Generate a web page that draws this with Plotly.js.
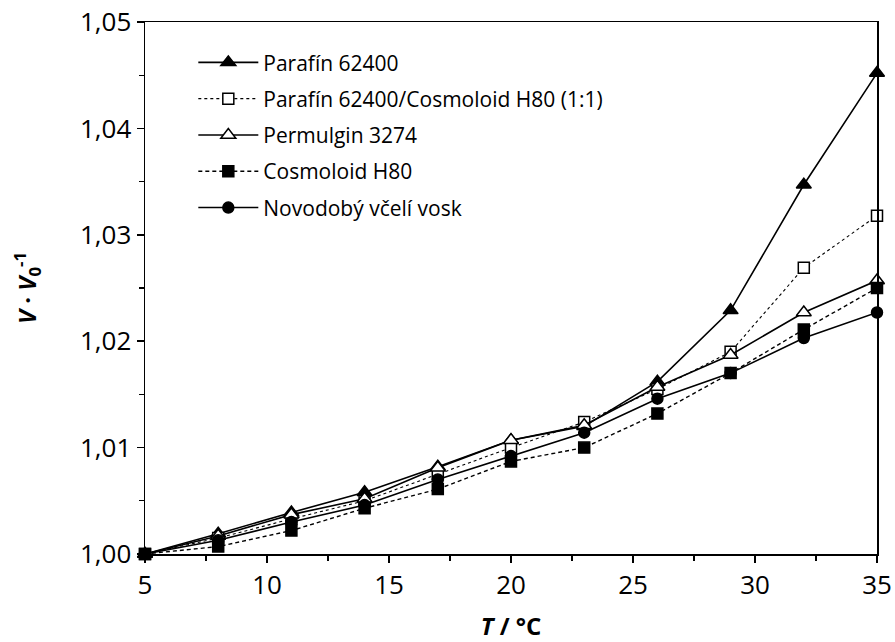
<!DOCTYPE html>
<html>
<head>
<meta charset="utf-8">
<script src="https://cdn.plot.ly/plotly-3.0.1.min.js"></script>
<style>
  html, body { margin: 0; padding: 0; background: #fff; }
  #chart { width: 895px; height: 642px; }
</style>
</head>
<body>
<div id="chart"></div>
<script>
// Temperature steps (°C)
const temperature = [5, 8, 11, 14, 17, 20, 23, 26, 29, 32, 35];

// Relative volume V/V0 for each wax
const parafin = [1.0000, 1.0019, 1.0039, 1.0058, 1.0082, 1.0107, 1.0120, 1.0162, 1.0229, 1.0347, 1.0452];
const parafinCosmoloid = [1.0000, 1.0015, 1.0033, 1.0050, 1.0075, 1.0100, 1.0124, 1.0155, 1.0190, 1.0269, 1.0318];
const permulgin = [1.0000, 1.0017, 1.0037, 1.0052, 1.0081, 1.0107, 1.0121, 1.0157, 1.0187, 1.0227, 1.0257];
const cosmoloid = [1.0000, 1.0007, 1.0022, 1.0043, 1.0061, 1.0087, 1.0100, 1.0132, 1.0170, 1.0211, 1.0250];
const vcelivosk = [1.0000, 1.0013, 1.0030, 1.0046, 1.0070, 1.0092, 1.0114, 1.0146, 1.0170, 1.0203, 1.0227];

const seriesNames = [
  'Parafín 62400',
  'Parafín 62400/Cosmoloid H80 (1:1)',
  'Permulgin 3274',
  'Cosmoloid H80',
  'Novodobý včelí vosk'
];

const xTicks = [5, 10, 15, 20, 25, 30, 35];
const yTicks = [1.00, 1.01, 1.02, 1.03, 1.04, 1.05];

const BLACK = '#000';

function trace(y, name, dash, width, symbol, fill, size) {
  return {
    x: temperature, y: y, name: name, type: 'scatter', mode: 'lines+markers',
    legendgroup: name,
    line: { color: BLACK, width: width, dash: dash },
    marker: { symbol: symbol, size: size, color: fill, line: { color: BLACK, width: 1.5 } },
    cliponaxis: false
  };
}

const data = [
  trace(parafin, seriesNames[0], 'solid', 1.6, 'triangle-up', BLACK, 13),
  trace(parafinCosmoloid, seriesNames[1], 'dot', 1.1, 'square', '#fff', 11),
  trace(permulgin, seriesNames[2], 'solid', 1.6, 'triangle-up', '#fff', 13),
  trace(cosmoloid, seriesNames[3], '4px,3px', 1.4, 'square', BLACK, 11),
  trace(vcelivosk, seriesNames[4], 'solid', 1.6, 'circle', BLACK, 11)
];

const FONT = 'Open Sans, Noto Sans, Liberation Sans, sans-serif';

const layout = {
  width: 895, height: 642,
  margin: { l: 145, r: 18, t: 22, b: 88 },
  paper_bgcolor: '#fff', plot_bgcolor: '#fff',
  separators: ', ',
  font: { family: FONT, color: BLACK, size: 20 },
  showlegend: true,
  legend: {
    x: 0.066, y: 0.962, xanchor: 'left', yanchor: 'top',
    bgcolor: 'rgba(0,0,0,0)', borderwidth: 0,
    font: { family: FONT, size: 21, color: BLACK },
    tracegroupgap: 6,
    itemwidth: 60
  },
  xaxis: {
    range: [5, 35], tickvals: xTicks, ticktext: xTicks.map(String),
    showgrid: false, zeroline: false,
    showline: true, linecolor: BLACK, linewidth: 1.5, mirror: true,
    ticks: 'outside', ticklen: 7, tickwidth: 1.5, tickcolor: BLACK,
    minor: { dtick: 2.5, ticks: 'outside', ticklen: 5, tickwidth: 1.2, tickcolor: BLACK, showgrid: false },
    tickfont: { size: 26, family: FONT },
    title: { text: '<b><i>T</i> / °C</b>', font: { size: 24, family: FONT }, standoff: 17 }
  },
  yaxis: {
    range: [1.0, 1.05], tickvals: yTicks, tickformat: '.2f',
    showgrid: false, zeroline: false,
    showline: true, linecolor: BLACK, linewidth: 1.5, mirror: true,
    ticks: 'outside', ticklen: 7, tickwidth: 1.5, tickcolor: BLACK,
    minor: { dtick: 0.005, ticks: 'outside', ticklen: 5, tickwidth: 1.2, tickcolor: BLACK, showgrid: false },
    tickfont: { size: 26, family: FONT },
    title: { text: '<b><i>V</i> · <i>V</i><sub>0</sub><sup>-1</sup></b>', font: { size: 24, family: FONT }, standoff: 36 }
  }
};

Plotly.newPlot('chart', data, layout, { displayModeBar: false, staticPlot: true });
</script>
</body>
</html>
